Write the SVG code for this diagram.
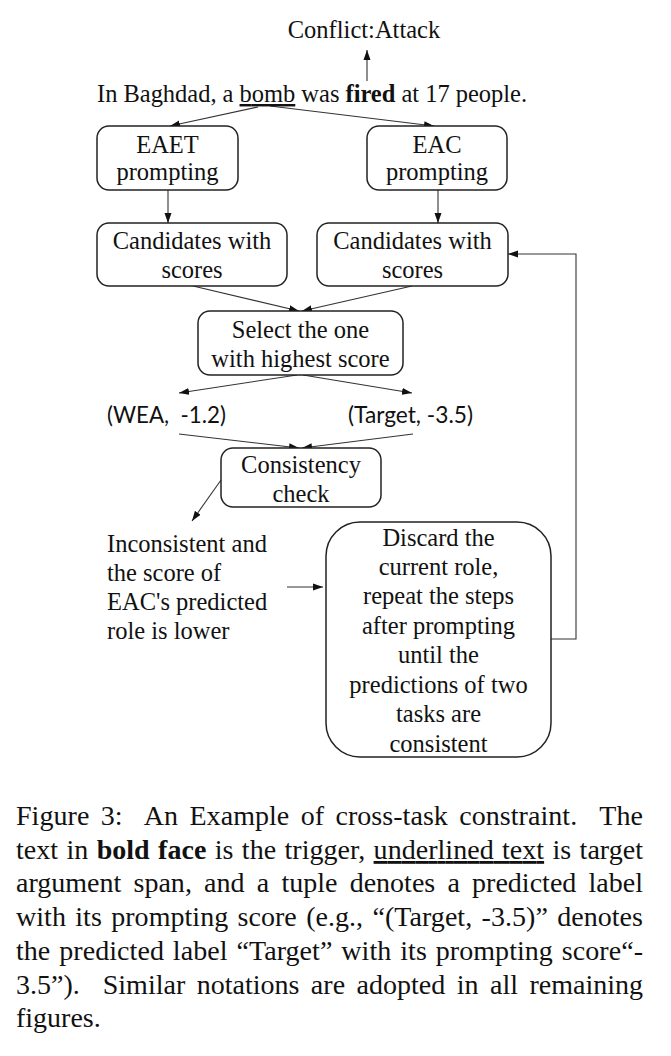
<svg xmlns="http://www.w3.org/2000/svg" width="671" height="1056" viewBox="0 0 671 1056">
<style>
.t{font-family:"Liberation Serif","Times New Roman",serif;font-size:24.5px;fill:#111}
.c{text-anchor:middle}
.s{font-family:Lato,"Open Sans",sans-serif;font-size:24px;fill:#111}
.box{fill:#fff;stroke:#222;stroke-width:1.5}
.ln{stroke:#333;stroke-width:1.1;fill:none}
.cap{font-family:"Liberation Serif","Times New Roman",serif;font-size:28px;fill:#111;white-space:pre}
</style>
<defs>
<marker id="ah" markerUnits="userSpaceOnUse" markerWidth="10" markerHeight="8" refX="10" refY="4" orient="auto">
<path d="M0,0.5 L10,4 L0,7.5 z" fill="#111"/>
</marker>
</defs>
<rect width="671" height="1056" fill="#fff"/>

<g id="connectors">
<line class="ln" x1="367" y1="81" x2="367" y2="50" marker-end="url(#ah)"/>
<line class="ln" x1="258" y1="107" x2="170" y2="126" marker-end="url(#ah)"/>
<line class="ln" x1="270" y1="106" x2="434" y2="126" marker-end="url(#ah)"/>
<line class="ln" x1="168" y1="190" x2="168" y2="223" marker-end="url(#ah)"/>
<line class="ln" x1="438" y1="190" x2="438" y2="223" marker-end="url(#ah)"/>
<line class="ln" x1="193" y1="286" x2="299" y2="311" marker-end="url(#ah)"/>
<line class="ln" x1="412" y1="286" x2="302" y2="311" marker-end="url(#ah)"/>
<line class="ln" x1="297" y1="375" x2="179" y2="393" marker-end="url(#ah)"/>
<line class="ln" x1="303" y1="375" x2="412" y2="393" marker-end="url(#ah)"/>
<line class="ln" x1="179" y1="434" x2="299" y2="448" marker-end="url(#ah)"/>
<line class="ln" x1="413" y1="434" x2="302" y2="448" marker-end="url(#ah)"/>
<line class="ln" x1="221" y1="480" x2="192" y2="521" marker-end="url(#ah)"/>
<line class="ln" x1="287" y1="587" x2="323" y2="587" marker-end="url(#ah)"/>
<polyline class="ln" points="551,639 576,639 576,254 508,254" marker-end="url(#ah)"/>
</g>

<g id="label-event">
<text class="t c" x="364" y="38">Conflict:Attack</text>
</g>

<g id="sentence">
<text class="t" x="97" y="102" textLength="430" lengthAdjust="spacing">In Baghdad, a <tspan text-decoration="underline">bomb</tspan> was <tspan font-weight="bold">fired</tspan> at 17 people.</text>
</g>

<g id="eaet">
<rect class="box" x="97" y="126" width="141" height="64" rx="12"/>
<text class="t c" x="167.5" y="153">EAET</text>
<text class="t c" x="167.5" y="180">prompting</text>
</g>

<g id="eac">
<rect class="box" x="367" y="126" width="140" height="64" rx="12"/>
<text class="t c" x="437" y="153">EAC</text>
<text class="t c" x="437" y="180">prompting</text>
</g>

<g id="cand-left">
<rect class="box" x="97" y="223" width="190" height="63" rx="12"/>
<text class="t c" x="192" y="249">Candidates with</text>
<text class="t c" x="192" y="278">scores</text>
</g>

<g id="cand-right">
<rect class="box" x="317" y="223" width="191" height="63" rx="12"/>
<text class="t c" x="412.5" y="249">Candidates with</text>
<text class="t c" x="412.5" y="278">scores</text>
</g>

<g id="select">
<rect class="box" x="198" y="311" width="205" height="64" rx="12"/>
<text class="t c" x="300.5" y="338">Select the one</text>
<text class="t c" x="300.5" y="367">with highest score</text>
</g>

<g id="wea">
<text class="s" x="107" y="423" textLength="119" lengthAdjust="spacingAndGlyphs" style="white-space:pre">(WEA,  -1.2)</text>
</g>

<g id="target">
<text class="s" x="348" y="423" textLength="125" lengthAdjust="spacingAndGlyphs">(Target, -3.5)</text>
</g>

<g id="consistency">
<rect class="box" x="221" y="448" width="160" height="59" rx="12"/>
<text class="t c" x="301" y="473">Consistency</text>
<text class="t c" x="301" y="502">check</text>
</g>

<g id="condition">
<text class="t" x="107" y="552">Inconsistent and</text>
<text class="t" x="107" y="581">the score of</text>
<text class="t" x="107" y="610">EAC's predicted</text>
<text class="t" x="107" y="639">role is lower</text>
</g>

<g id="discard">
<rect class="box" x="326" y="522" width="225" height="235" rx="34"/>
<text class="t c" x="438.5" y="546">Discard the</text>
<text class="t c" x="438.5" y="575">current role,</text>
<text class="t c" x="438.5" y="604">repeat the steps</text>
<text class="t c" x="438.5" y="634">after prompting</text>
<text class="t c" x="438.5" y="663">until the</text>
<text class="t c" x="438.5" y="693">predictions of two</text>
<text class="t c" x="438.5" y="722">tasks are</text>
<text class="t c" x="438.5" y="752">consistent</text>
</g>

<g id="caption">
<text class="cap" x="16" y="825" word-spacing="4.3" textLength="627" lengthAdjust="spacing">Figure 3:  An Example of cross-task constraint.  The</text>
<text class="cap" x="16" y="859" word-spacing="1.3" textLength="627" lengthAdjust="spacing">text in <tspan font-weight="bold">bold face</tspan> is the trigger, <tspan text-decoration="underline">underlined text</tspan> is target</text>
<text class="cap" x="16" y="892" word-spacing="5.2" textLength="627" lengthAdjust="spacing">argument span, and a tuple denotes a predicted label</text>
<text class="cap" x="16" y="926" word-spacing="2.3" textLength="627" lengthAdjust="spacing">with its prompting score (e.g., “(Target, -3.5)” denotes</text>
<text class="cap" x="16" y="960" word-spacing="1.9" textLength="627" lengthAdjust="spacing">the predicted label “Target” with its prompting score“-</text>
<text class="cap" x="16" y="994" word-spacing="4.5" textLength="627" lengthAdjust="spacing">3.5”).  Similar notations are adopted in all remaining</text>
<text class="cap" x="16" y="1027">figures.</text>
</g>
</svg>
